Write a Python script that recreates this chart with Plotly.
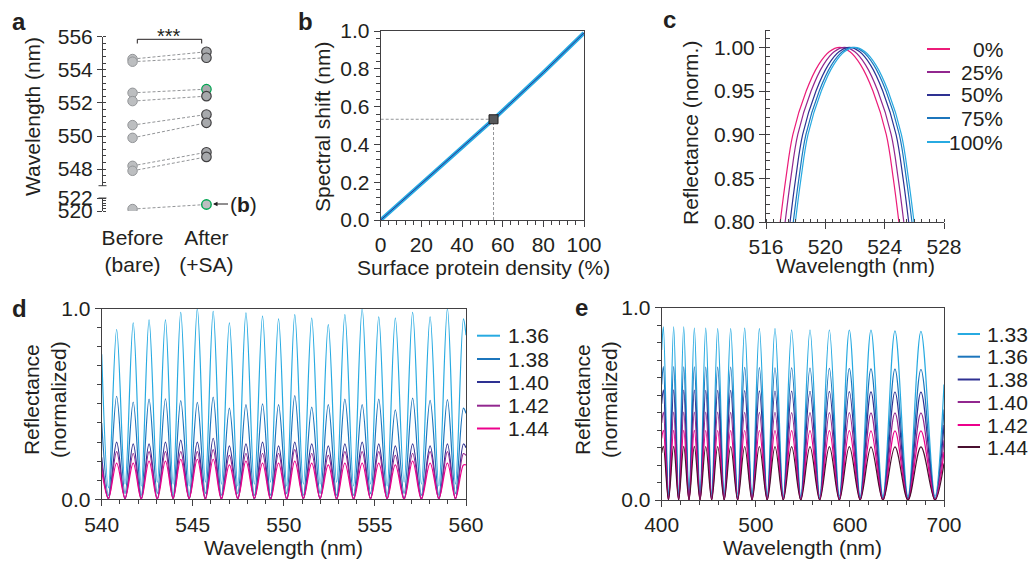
import plotly.graph_objects as go

W, H = 1031, 561
OFF = 0  # page body margin is removed by the post script below
FONT = "Liberation Sans, Arial, Helvetica, sans-serif"
TXT = "#231f20"
AX = "#414042"
FS = 21

# ---------------- panel a data ----------------
a_categories = ["Before<br>(bare)", "After<br>(+SA)"]
a_before_upper = [554.65, 554.49, 552.61, 552.11, 550.66, 549.89, 548.20, 547.90]
a_after_upper = [555.09, 554.73, 552.83, 552.41, 551.30, 550.80, 549.02, 548.74]
a_after_upper_green = [False, False, True, False, False, False, False, False]
a_before_lower = [520.3]
a_after_lower = [521.0]

# ---------------- panel b data ----------------
b_density = [0, 20, 40, 55.5, 80, 100]
b_shift = [0.0, 0.19, 0.385, 0.533, 0.78, 0.99]
b_point_density = 55.5
b_point_shift = 0.533

# ---------------- panel c data ----------------
c_labels = ["0%", "25%", "50%", "75%", "100%"]
c_colors = ["#ec1c79", "#92278f", "#2e3192", "#1c75bc", "#27aae1"]
c_levels = [0.80, 0.85, 0.90, 0.95, 0.98, 0.995, 1.00, 0.995, 0.98, 0.95, 0.90, 0.85, 0.80]
c_wl_0 = [516.96, 517.34, 517.81, 518.71, 519.54, 520.26, 520.96, 521.66, 522.38, 523.21, 524.11, 524.58, 524.96]
c_wl_25 = [517.29, 517.67, 518.14, 519.04, 519.87, 520.59, 521.29, 521.99, 522.71, 523.54, 524.44, 524.91, 525.29]
c_wl_50 = [517.62, 518.00, 518.47, 519.37, 520.20, 520.92, 521.62, 522.32, 523.04, 523.87, 524.77, 525.24, 525.62]
c_wl_75 = [517.84, 518.22, 518.69, 519.59, 520.42, 521.14, 521.84, 522.54, 523.26, 524.09, 524.99, 525.46, 525.84]
c_wl_100 = [517.98, 518.36, 518.83, 519.73, 520.56, 521.28, 521.98, 522.68, 523.40, 524.23, 525.13, 525.60, 525.98]

# ---------------- panel d data ----------------
d_labels = ["1.36", "1.38", "1.40", "1.42", "1.44"]
d_colors = ["#27aae1", "#1c75bc", "#2e3192", "#92278f", "#ec008c"]
d_trough_nm = [540.37, 541.28, 542.17, 543.05, 543.92, 544.80, 545.69, 546.57, 547.47, 548.38, 549.27,
               550.16, 551.07, 551.99, 552.90, 553.83, 554.76, 555.67, 556.60, 557.55, 558.51, 559.42]
d_peak_nm = [540.82, 541.73, 542.60, 543.50, 544.34, 545.25, 546.12, 547.01, 547.92, 548.83, 549.71,
             550.60, 551.53, 552.44, 553.35, 554.30, 555.21, 556.12, 557.07, 558.03, 558.98, 559.86]
d_peak_136 = [0.89, 0.925, 0.94, 0.94, 0.98, 1.0, 0.985, 0.925, 0.977, 0.96, 0.946,
              0.968, 0.95, 0.916, 0.968, 1.0, 0.956, 0.95, 0.98, 0.956, 1.0, 0.946]
d_peak_138 = [0.54, 0.51, 0.525, 0.527, 0.517, 0.508, 0.536, 0.478, 0.496, 0.50, 0.496,
              0.543, 0.483, 0.496, 0.525, 0.496, 0.525, 0.469, 0.53, 0.518, 0.522, 0.478]
d_peak_140 = [0.30, 0.29, 0.29, 0.30, 0.31, 0.30, 0.32, 0.28, 0.29, 0.30, 0.28,
              0.30, 0.29, 0.28, 0.29, 0.30, 0.29, 0.28, 0.29, 0.28, 0.29, 0.29]
d_peak_142 = [0.25, 0.24, 0.25, 0.25, 0.25, 0.25, 0.26, 0.23, 0.24, 0.24, 0.24,
              0.26, 0.24, 0.23, 0.25, 0.25, 0.25, 0.23, 0.24, 0.25, 0.25, 0.24]
d_peak_144 = [0.19, 0.19, 0.20, 0.20, 0.21, 0.21, 0.21, 0.18, 0.20, 0.19, 0.19,
              0.20, 0.19, 0.18, 0.19, 0.19, 0.19, 0.18, 0.20, 0.19, 0.19, 0.18]
d_trough_136 = [0.06, 0.08, 0.07, 0.09, 0.08, 0.07, 0.09, 0.08, 0.07, 0.08, 0.09,
                0.07, 0.08, 0.08, 0.09, 0.07, 0.08, 0.07, 0.09, 0.08, 0.07, 0.08]
d_trough_138 = [0.02, 0.03, 0.02, 0.03, 0.02, 0.02, 0.03, 0.02, 0.03, 0.02, 0.02,
                0.03, 0.02, 0.03, 0.02, 0.02, 0.03, 0.02, 0.03, 0.02, 0.02, 0.03]
d_trough_140 = [0.005, 0.0, 0.005, 0.0, 0.005, 0.0, 0.005, 0.0, 0.005, 0.0, 0.005,
                0.0, 0.005, 0.0, 0.005, 0.0, 0.005, 0.0, 0.005, 0.0, 0.005, 0.0]
d_trough_142 = [0.0, 0.005, 0.0, 0.005, 0.0, 0.005, 0.0, 0.005, 0.0, 0.005, 0.0,
                0.005, 0.0, 0.005, 0.0, 0.005, 0.0, 0.005, 0.0, 0.005, 0.0, 0.005]
d_trough_144 = [0.005, 0.005, 0.0, 0.0, 0.005, 0.005, 0.0, 0.0, 0.005, 0.005, 0.0,
                0.0, 0.005, 0.005, 0.0, 0.0, 0.005, 0.005, 0.0, 0.0, 0.005, 0.005]
d_start = [0.76, 0.40, 0.22, 0.19, 0.15]   # value at 540 nm
d_end = [0.86, 0.45, 0.27, 0.23, 0.18]     # value at 560 nm

# ---------------- panel e data ----------------
e_labels = ["1.33", "1.36", "1.38", "1.40", "1.42", "1.44"]
e_colors = ["#27aae1", "#1c75bc", "#2e3192", "#92278f", "#ec008c", "#4a1030"]
e_peak_nm = [401.8, 412.7, 423.4, 434.7, 446.8, 459.5, 473.3, 488.2, 503.8,
             520.4, 538.1, 557.6, 578.2, 599.4, 622.4, 647.9, 675.5]
e_trough_nm = [407.2, 418.0, 429.0, 440.7, 453.1, 466.4, 480.7, 496.0, 512.1,
               529.2, 547.8, 567.9, 588.8, 610.9, 635.1, 661.7, 690.4]
e_peak_133 = [0.900, 0.900, 0.900, 0.893, 0.893, 0.890, 0.890, 0.893, 0.890,
              0.890, 0.883, 0.883, 0.883, 0.883, 0.883, 0.879, 0.876]
e_peak_136 = [0.693, 0.693, 0.692, 0.692, 0.691, 0.690, 0.690, 0.689, 0.688,
              0.687, 0.686, 0.685, 0.684, 0.683, 0.681, 0.680, 0.678]
e_peak_138 = [0.572, 0.572, 0.571, 0.571, 0.570, 0.569, 0.569, 0.568, 0.567,
              0.566, 0.566, 0.565, 0.564, 0.563, 0.562, 0.561, 0.560]
e_peak_140 = [0.457, 0.457, 0.457, 0.456, 0.456, 0.456, 0.455, 0.455, 0.455,
              0.455, 0.454, 0.454, 0.454, 0.454, 0.453, 0.453, 0.453]
e_peak_142 = [0.362, 0.362, 0.362, 0.362, 0.361, 0.361, 0.361, 0.361, 0.361,
              0.360, 0.360, 0.360, 0.360, 0.360, 0.359, 0.359, 0.359]
e_peak_144 = [0.279, 0.279, 0.279, 0.279, 0.278, 0.278, 0.278, 0.278, 0.278,
              0.277, 0.277, 0.277, 0.277, 0.277, 0.276, 0.276, 0.276]
e_trough_133 = [0.03, 0.03, 0.03, 0.03, 0.03, 0.03, 0.03, 0.02, 0.02,
                0.02, 0.02, 0.02, 0.02, 0.02, 0.02, 0.02, 0.02]
e_trough_136 = [0.015, 0.015, 0.015, 0.015, 0.015, 0.015, 0.012, 0.012, 0.012,
                0.012, 0.012, 0.010, 0.010, 0.010, 0.010, 0.010, 0.010]
e_trough_138 = [0.005, 0.005, 0.005, 0.005, 0.005, 0.005, 0.005, 0.005, 0.005,
                0.004, 0.004, 0.004, 0.004, 0.004, 0.004, 0.004, 0.004]
e_trough_140 = [0.0, 0.0, 0.0, 0.0, 0.0, 0.0, 0.0, 0.0, 0.0,
                0.0, 0.0, 0.0, 0.0, 0.0, 0.0, 0.0, 0.0]
e_trough_142 = [0.0, 0.0, 0.0, 0.0, 0.0, 0.0, 0.0, 0.0, 0.0,
                0.0, 0.0, 0.0, 0.0, 0.0, 0.0, 0.0, 0.0]
e_trough_144 = [0.0, 0.0, 0.0, 0.0, 0.0, 0.0, 0.0, 0.0, 0.0,
                0.0, 0.0, 0.0, 0.0, 0.0, 0.0, 0.0, 0.0]
e_start = [0.78, 0.60, 0.50, 0.40, 0.32, 0.245]  # value at 400 nm
e_end = [0.60, 0.47, 0.39, 0.31, 0.25, 0.19]      # value at 700 nm


def px(p):
    return (p - OFF) / W


def py(p):
    return 1 - (p - OFF) / H


fig = go.Figure()

# ---------------- panel a traces ----------------
lx, ly = [], []
for b, a in zip(a_before_upper, a_after_upper):
    lx += [0, 1, None]
    ly += [b, a, None]
fig.add_trace(go.Scatter(x=lx, y=ly, mode="lines", xaxis="x", yaxis="y",
                         line=dict(color="#939598", width=1, dash="3px,2px")))
lx2, ly2 = [], []
for b, a in zip(a_before_lower, a_after_lower):
    lx2 += [0, 1, None]
    ly2 += [b, a, None]
fig.add_trace(go.Scatter(x=lx2, y=ly2, mode="lines", xaxis="x", yaxis="y2",
                         line=dict(color="#939598", width=1, dash="3px,2px")))

fig.add_trace(go.Scatter(x=[0] * len(a_before_upper), y=a_before_upper, mode="markers",
                         xaxis="x", yaxis="y",
                         marker=dict(size=9.5, color="#bcbec0", line=dict(color="#939598", width=1))))
fig.add_trace(go.Scatter(x=[0] * len(a_before_lower), y=a_before_lower, mode="markers",
                         xaxis="x", yaxis="y2",
                         marker=dict(size=9.5, color="#bcbec0", line=dict(color="#939598", width=1))))
after_line = ["#00a651" if g else "#414042" for g in a_after_upper_green]
fig.add_trace(go.Scatter(x=[1] * len(a_after_upper), y=a_after_upper, mode="markers",
                         xaxis="x", yaxis="y",
                         marker=dict(size=9.5, color="#a7a9ac", line=dict(color=after_line, width=1.2))))
fig.add_trace(go.Scatter(x=[1] * len(a_after_lower), y=a_after_lower, mode="markers",
                         xaxis="x", yaxis="y2",
                         marker=dict(size=9.5, color="#bcbec0", line=dict(color="#00a651", width=1.4))))

# ---------------- panel b traces ----------------
fig.add_trace(go.Scatter(x=[0, b_point_density], y=[b_point_shift, b_point_shift], mode="lines",
                         xaxis="x2", yaxis="y3", line=dict(color="#939598", width=1, dash="3px,2px")))
fig.add_trace(go.Scatter(x=[b_point_density, b_point_density], y=[0, b_point_shift], mode="lines",
                         xaxis="x2", yaxis="y3", line=dict(color="#939598", width=1, dash="3px,2px")))
fig.add_trace(go.Scatter(x=b_density, y=b_shift, mode="lines", xaxis="x2", yaxis="y3",
                         line=dict(color="#27aae1", width=4)))
fig.add_trace(go.Scatter(x=b_density, y=b_shift, mode="lines", xaxis="x2", yaxis="y3",
                         line=dict(color="#2e3192", width=1)))
fig.add_trace(go.Scatter(x=[b_point_density], y=[b_point_shift], mode="markers", xaxis="x2", yaxis="y3",
                         marker=dict(symbol="square", size=9, color="#58595b",
                                     line=dict(color="#231f20", width=1))))

# ---------------- panel c traces ----------------
c_wls = [c_wl_0, c_wl_25, c_wl_50, c_wl_75, c_wl_100]
for lab, col, wl in zip(c_labels, c_colors, c_wls):
    fig.add_trace(go.Scatter(x=wl, y=c_levels, mode="lines", name=lab, xaxis="x3", yaxis="y4",
                             line=dict(color=col, width=1.2, shape="spline", smoothing=1)))

# ---------------- panel d traces ----------------
d_peaks = [d_peak_136, d_peak_138, d_peak_140, d_peak_142, d_peak_144]
d_troughs = [d_trough_136, d_trough_138, d_trough_140, d_trough_142, d_trough_144]
for i, (lab, col) in enumerate(zip(d_labels, d_colors)):
    xs = [540.0]
    ys = [d_start[i]]
    for tn, pn, tv, pv in zip(d_trough_nm, d_peak_nm, d_troughs[i], d_peaks[i]):
        xs += [tn, pn]
        ys += [tv, pv]
    xs.append(560.0)
    ys.append(d_end[i])
    fig.add_trace(go.Scatter(x=xs, y=ys, mode="lines", name=lab, xaxis="x4", yaxis="y5",
                             line=dict(color=col, width=1.2, shape="spline", smoothing=1)))

# ---------------- panel e traces ----------------
e_peaks = [e_peak_133, e_peak_136, e_peak_138, e_peak_140, e_peak_142, e_peak_144]
e_troughs = [e_trough_133, e_trough_136, e_trough_138, e_trough_140, e_trough_142, e_trough_144]
for i, (lab, col) in enumerate(zip(e_labels, e_colors)):
    xs = [400.0]
    ys = [e_start[i]]
    for pn, tn, pv, tv in zip(e_peak_nm, e_trough_nm, e_peaks[i], e_troughs[i]):
        xs += [pn, tn]
        ys += [pv, tv]
    xs.append(700.0)
    ys.append(e_end[i])
    fig.add_trace(go.Scatter(x=xs, y=ys, mode="lines", name=lab, xaxis="x5", yaxis="y6",
                             line=dict(color=col, width=1.2, shape="spline", smoothing=1)))

fig.update_traces(showlegend=False, hoverinfo="skip")

# ---------------- axes ----------------
tickfont = dict(size=FS, color=TXT, family=FONT)


def axstyle(**kw):
    base = dict(showline=True, linecolor=AX, linewidth=1, ticks="outside", ticklen=6,
                tickcolor=AX, tickwidth=1, showgrid=False, zeroline=False, tickfont=tickfont,
                automargin=False)
    base.update(kw)
    return base


layout = dict(
    template="none",
    width=W, height=H, autosize=False,
    margin=dict(l=0, r=0, t=0, b=0, pad=0, autoexpand=False),
    paper_bgcolor="white", plot_bgcolor="rgba(0,0,0,0)",
    font=dict(family=FONT, size=FS, color=TXT),
    showlegend=False,
    # panel a
    xaxis=dict(domain=[px(103), px(236)], range=[-0.4, 1.4], anchor="y2", showline=False,
               ticks="", tickvals=[0, 1], ticktext=a_categories, showgrid=False, zeroline=False,
               tickfont=tickfont, ticklabelstandoff=12, automargin=False),
    yaxis=axstyle(domain=[py(185.7), py(36.7)], range=[547, 556], anchor="x", tick0=548, dtick=2,
                  ticklen=5,
                  minor=dict(ticks="inside", ticklen=3, dtick=0.4, tick0=548, tickcolor=AX)),
    yaxis2=axstyle(domain=[py(211), py(198)], range=[520, 522], anchor="x", tick0=520, dtick=2,
                   ticklen=5,
                   minor=dict(ticks="inside", ticklen=3, dtick=0.4, tick0=520, tickcolor=AX)),
    # panel b
    xaxis2=axstyle(domain=[px(380.7), px(584)], range=[0, 100], anchor="y3", dtick=20, mirror=True,
                   minor=dict(ticks="outside", ticklen=3.5, dtick=4, tickcolor=AX)),
    yaxis3=axstyle(domain=[py(220), py(31)], range=[0, 1.0], anchor="x2", dtick=0.2, tickformat=".1f",
                   mirror=True,
                   minor=dict(ticks="outside", ticklen=3.5, dtick=0.04, tickcolor=AX)),
    # panel c
    xaxis3=axstyle(domain=[px(766), px(944)], range=[516, 528], anchor="y4", dtick=4, tick0=516,
                   minor=dict(ticks="inside", ticklen=3.5, dtick=0.5, tick0=516, tickcolor=AX)),
    yaxis4=axstyle(domain=[py(222), py(30)], range=[0.8, 1.02], anchor="x3", dtick=0.05, tick0=0.8,
                   tickformat=".2f",
                   minor=dict(ticks="inside", ticklen=3.5, dtick=0.01, tick0=0.8, tickcolor=AX)),
    # panel d
    xaxis4=axstyle(domain=[px(101.7), px(466)], range=[540, 560], anchor="y5", dtick=5, mirror=True,
                   minor=dict(ticks="outside", ticklen=4, dtick=1, tickcolor=AX)),
    yaxis5=axstyle(domain=[py(499.3), py(308.5)], range=[0, 1.0], anchor="x4", dtick=1, tickformat=".1f",
                   mirror=True,
                   minor=dict(ticks="outside", ticklen=4, dtick=0.1, tickcolor=AX)),
    # panel e
    xaxis5=axstyle(domain=[px(661.7), px(944)], range=[400, 700], anchor="y6", dtick=100, mirror=True,
                   minor=dict(ticks="outside", ticklen=4, dtick=20, tickcolor=AX)),
    yaxis6=axstyle(domain=[py(500), py(307.5)], range=[0, 1.0], anchor="x5", dtick=1, tickformat=".1f",
                   mirror=True,
                   minor=dict(ticks="outside", ticklen=4, dtick=1 / 11, tickcolor=AX)),
)
fig.update_layout(**layout)

# ---------------- annotations & shapes ----------------
ann = []
shapes = []


def text(x, y, t, size=FS, xanchor="center", yanchor="middle", angle=0, bold=False):
    ann.append(dict(x=px(x), y=py(y), xref="paper", yref="paper", text=(f"<b>{t}</b>" if bold else t),
                    showarrow=False, xanchor=xanchor, yanchor=yanchor, textangle=angle,
                    font=dict(size=size, color=TXT, family=FONT)))


# panel letters
text(18.5, 22, "a", size=24, bold=True)
text(305, 22, "b", size=24, bold=True)
text(669, 20, "c", size=24, bold=True)
text(19.5, 308, "d", size=24, bold=True)
text(581.5, 307, "e", size=24, bold=True)

# axis titles
text(33, 117, "Wavelength (nm)", angle=-90)
text(323, 127, "Spectral shift (nm)", angle=-90)
text(483, 267, "Surface protein density (%)")
text(690, 133, "Reflectance (norm.)", angle=-90)
text(855, 265, "Wavelength (nm)")
text(45, 400, "Reflectance<br>(normalized)", angle=-90)
text(283, 547, "Wavelength (nm)")
text(596, 400, "Reflectance<br>(normalized)", angle=-90)
text(802.5, 547, "Wavelength (nm)")

# significance bracket
text(169, 36, "***", size=20)
shapes.append(dict(type="path", xref="paper", yref="paper",
                   path=f"M {px(137.3)} {py(43.5)} L {px(137.3)} {py(39.3)} L {px(201.7)} {py(39.3)} L {px(201.7)} {py(43.5)}",
                   line=dict(color=TXT, width=1)))
# arrow to (b)
ann.append(dict(x=px(213), y=py(204), xref="paper", yref="paper", text="(<b>b</b>)", showarrow=True,
                ax=30, ay=0, arrowhead=2, arrowsize=0.9, arrowwidth=1, arrowcolor=TXT, standoff=0,
                font=dict(size=FS, color=TXT, family=FONT)))
# axis break caps for panel a
for yb in (185.7, 198.0):
    shapes.append(dict(type="line", xref="paper", yref="paper", x0=px(98.5), x1=px(106.5),
                       y0=py(yb), y1=py(yb), line=dict(color=AX, width=1)))

# legends (manual, to match compact row spacing)
c_rows = [49, 72, 95, 118, 142]
for lab, col, r in zip(c_labels, c_colors, c_rows):
    shapes.append(dict(type="line", xref="paper", yref="paper", x0=px(927), x1=px(950),
                       y0=py(r), y1=py(r), line=dict(color=col, width=2)))
    text(1005, r, lab, xanchor="right")

d_rows = [335.7, 359, 382, 405.7, 428.5]
for lab, col, r in zip(d_labels, d_colors, d_rows):
    shapes.append(dict(type="line", xref="paper", yref="paper", x0=px(477), x1=px(500),
                       y0=py(r), y1=py(r), line=dict(color=col, width=2)))
    text(506, r, lab, xanchor="left")

e_rows = [334, 356.7, 379.5, 402, 425, 447]
for lab, col, r in zip(e_labels, e_colors, e_rows):
    shapes.append(dict(type="line", xref="paper", yref="paper", x0=px(957.7), x1=px(980),
                       y0=py(r), y1=py(r), line=dict(color=col, width=2)))
    text(985, r, lab, xanchor="left")

fig.update_layout(annotations=ann, shapes=shapes)
fig.write_html(
    "out.html",
    config={"displayModeBar": False, "staticPlot": True},
    post_script="document.documentElement.style.margin='0';document.body.style.margin='0';"
                "document.body.style.padding='0';document.body.style.overflow='hidden';",
)
